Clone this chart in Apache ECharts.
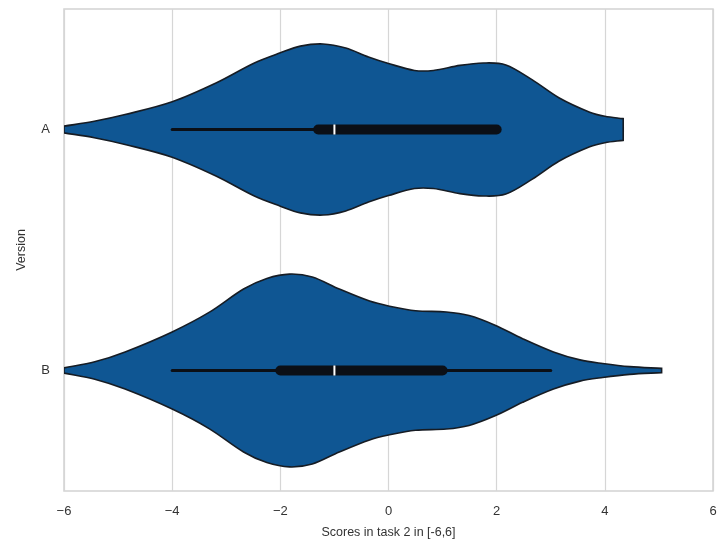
<!DOCTYPE html>
<html>
<head>
<meta charset="utf-8">
<script src="https://cdn.jsdelivr.net/npm/echarts@6/dist/echarts.min.js"></script>
<style>html,body{margin:0;padding:0;background:#fff}#c{width:725px;height:544px}</style>
</head>
<body>
<div id="c"></div>
<script>
var categories = ['A', 'B'];
var xTicks = [-6, -4, -2, 0, 2, 4, 6];
// density profile (x score, relative half-width of the violin)
var densityAX = [-6.0, -5.44, -4.87, -4.0, -3.18, -2.48, -2.0, -1.63, -1.21, -0.79, -0.37, 0.0, 0.48, 0.83, 1.32, 1.75, 2.17, 2.66, 3.15, 3.72, 4.0, 4.34];
var densityAY = [0.014, 0.034, 0.062, 0.115, 0.194, 0.276, 0.318, 0.346, 0.355, 0.338, 0.301, 0.274, 0.245, 0.245, 0.266, 0.276, 0.268, 0.206, 0.132, 0.072, 0.055, 0.045];
var densityBX = [-6.0, -5.43, -4.87, -4.0, -3.31, -2.68, -2.25, -1.83, -1.41, -0.91, -0.35, 0.0, 0.50, 1.07, 1.49, 1.97, 2.48, 3.05, 3.54, 3.96, 4.46, 5.05];
var densityBY = [0.011, 0.036, 0.077, 0.160, 0.242, 0.338, 0.382, 0.400, 0.388, 0.338, 0.288, 0.268, 0.248, 0.243, 0.228, 0.188, 0.132, 0.077, 0.044, 0.029, 0.016, 0.009];
// box stats: [min whisker, Q1, median, Q3, max whisker]
var statsA = [-4, -1.3, -1, 2, 2];
var statsB = [-4, -2, -1, 1, 3];

var violins = [
  {cat: 0, xs: densityAX, ds: densityAY, st: statsA},
  {cat: 1, xs: densityBX, ds: densityBY, st: statsB}
];

function slopes(pts) {
  var n = pts.length, m = [];
  for (var i = 0; i < n; i++) {
    var a = pts[Math.max(i - 1, 0)], b = pts[Math.min(i + 1, n - 1)];
    m.push((b[1] - a[1]) / (b[0] - a[0]));
  }
  return m;
}
// smooth curve through points treated as a function y(x) (cubic Hermite -> Bezier)
function forwardPath(pts) {
  var m = slopes(pts), s = '';
  for (var j = 0; j < pts.length - 1; j++) {
    var p1 = pts[j], p2 = pts[j + 1], h = p2[0] - p1[0];
    s += ' C' + (p1[0] + h / 3) + ' ' + (p1[1] + m[j] * h / 3) + ' ' +
      (p2[0] - h / 3) + ' ' + (p2[1] - m[j + 1] * h / 3) + ' ' + p2[0] + ' ' + p2[1];
  }
  return s;
}
function reversePath(pts) {
  var m = slopes(pts), s = '';
  for (var j = pts.length - 1; j > 0; j--) {
    var p1 = pts[j - 1], p2 = pts[j], h = p2[0] - p1[0];
    s += ' C' + (p2[0] - h / 3) + ' ' + (p2[1] - m[j] * h / 3) + ' ' +
      (p1[0] + h / 3) + ' ' + (p1[1] + m[j - 1] * h / 3) + ' ' + p1[0] + ' ' + p1[1];
  }
  return s;
}

function renderItem(params, api) {
  var v = violins[params.dataIndex];
  var band = api.size([0, 1])[1];
  var cy = api.coord([0, v.cat])[1];
  var top = [], bot = [];
  for (var i = 0; i < v.xs.length; i++) {
    var px = api.coord([v.xs[i], v.cat])[0];
    var hw = v.ds[i] * band;
    top.push([px, cy - hw]);
    bot.push([px, cy + hw]);
  }
  var last = bot[bot.length - 1];
  var d = 'M' + top[0][0] + ' ' + top[0][1] + forwardPath(top) +
    ' L' + last[0] + ' ' + last[1] + reversePath(bot) + ' Z';
  var st = v.st;
  var x = function (val) { return api.coord([val, v.cat])[0]; };
  return {
    type: 'group',
    children: [
      {type: 'path', shape: {pathData: d}, style: {fill: '#0f5693', stroke: '#161c24', lineWidth: 1.6}},
      {type: 'line', shape: {x1: x(st[0]), y1: cy, x2: x(st[4]), y2: cy}, style: {stroke: '#0b0f16', lineWidth: 3, lineCap: 'round'}},
      {type: 'line', shape: {x1: x(st[1]), y1: cy, x2: x(st[3]), y2: cy}, style: {stroke: '#0b0f16', lineWidth: 10, lineCap: 'round'}},
      {type: 'rect', shape: {x: x(st[2]) - 1, y: cy - 5, width: 2, height: 10}, style: {fill: '#ffffff'}}
    ]
  };
}

var chart = echarts.init(document.getElementById('c'));
chart.setOption({
  animation: false,
  backgroundColor: '#ffffff',
  grid: {left: 64, right: 12, top: 9, bottom: 47, show: true, borderColor: '#d2d2d2', borderWidth: 1.5, backgroundColor: '#ffffff'},
  xAxis: {
    type: 'value', min: xTicks[0], max: xTicks[xTicks.length - 1], interval: 2,
    name: 'Scores in task 2 in [-6,6]', nameLocation: 'middle', nameGap: 35,
    nameTextStyle: {fontFamily: 'Liberation Sans', fontSize: 12.5, color: '#333'},
    axisLine: {show: false}, axisTick: {show: false},
    axisLabel: {fontFamily: 'Liberation Sans', fontSize: 13, color: '#333', margin: 14,
      formatter: function (v) { return v < 0 ? '\u2212' + Math.abs(v) : String(v); }},
    splitLine: {show: true, lineStyle: {color: '#d6d6d6', width: 1.2}}
  },
  yAxis: {
    type: 'category', data: categories, inverse: true,
    name: 'Version', nameLocation: 'middle', nameGap: 36,
    nameTextStyle: {fontFamily: 'Liberation Sans', fontSize: 12.5, color: '#333'},
    axisLine: {show: false}, axisTick: {show: false},
    axisLabel: {fontFamily: 'Liberation Sans', fontSize: 13, color: '#333', margin: 14},
    splitLine: {show: false}
  },
  series: [{
    type: 'custom',
    renderItem: renderItem,
    data: violins.map(function (v) { return [0, v.cat]; }),
    encode: {x: 0, y: 1},
    clip: true
  }]
});
</script>
</body>
</html>
